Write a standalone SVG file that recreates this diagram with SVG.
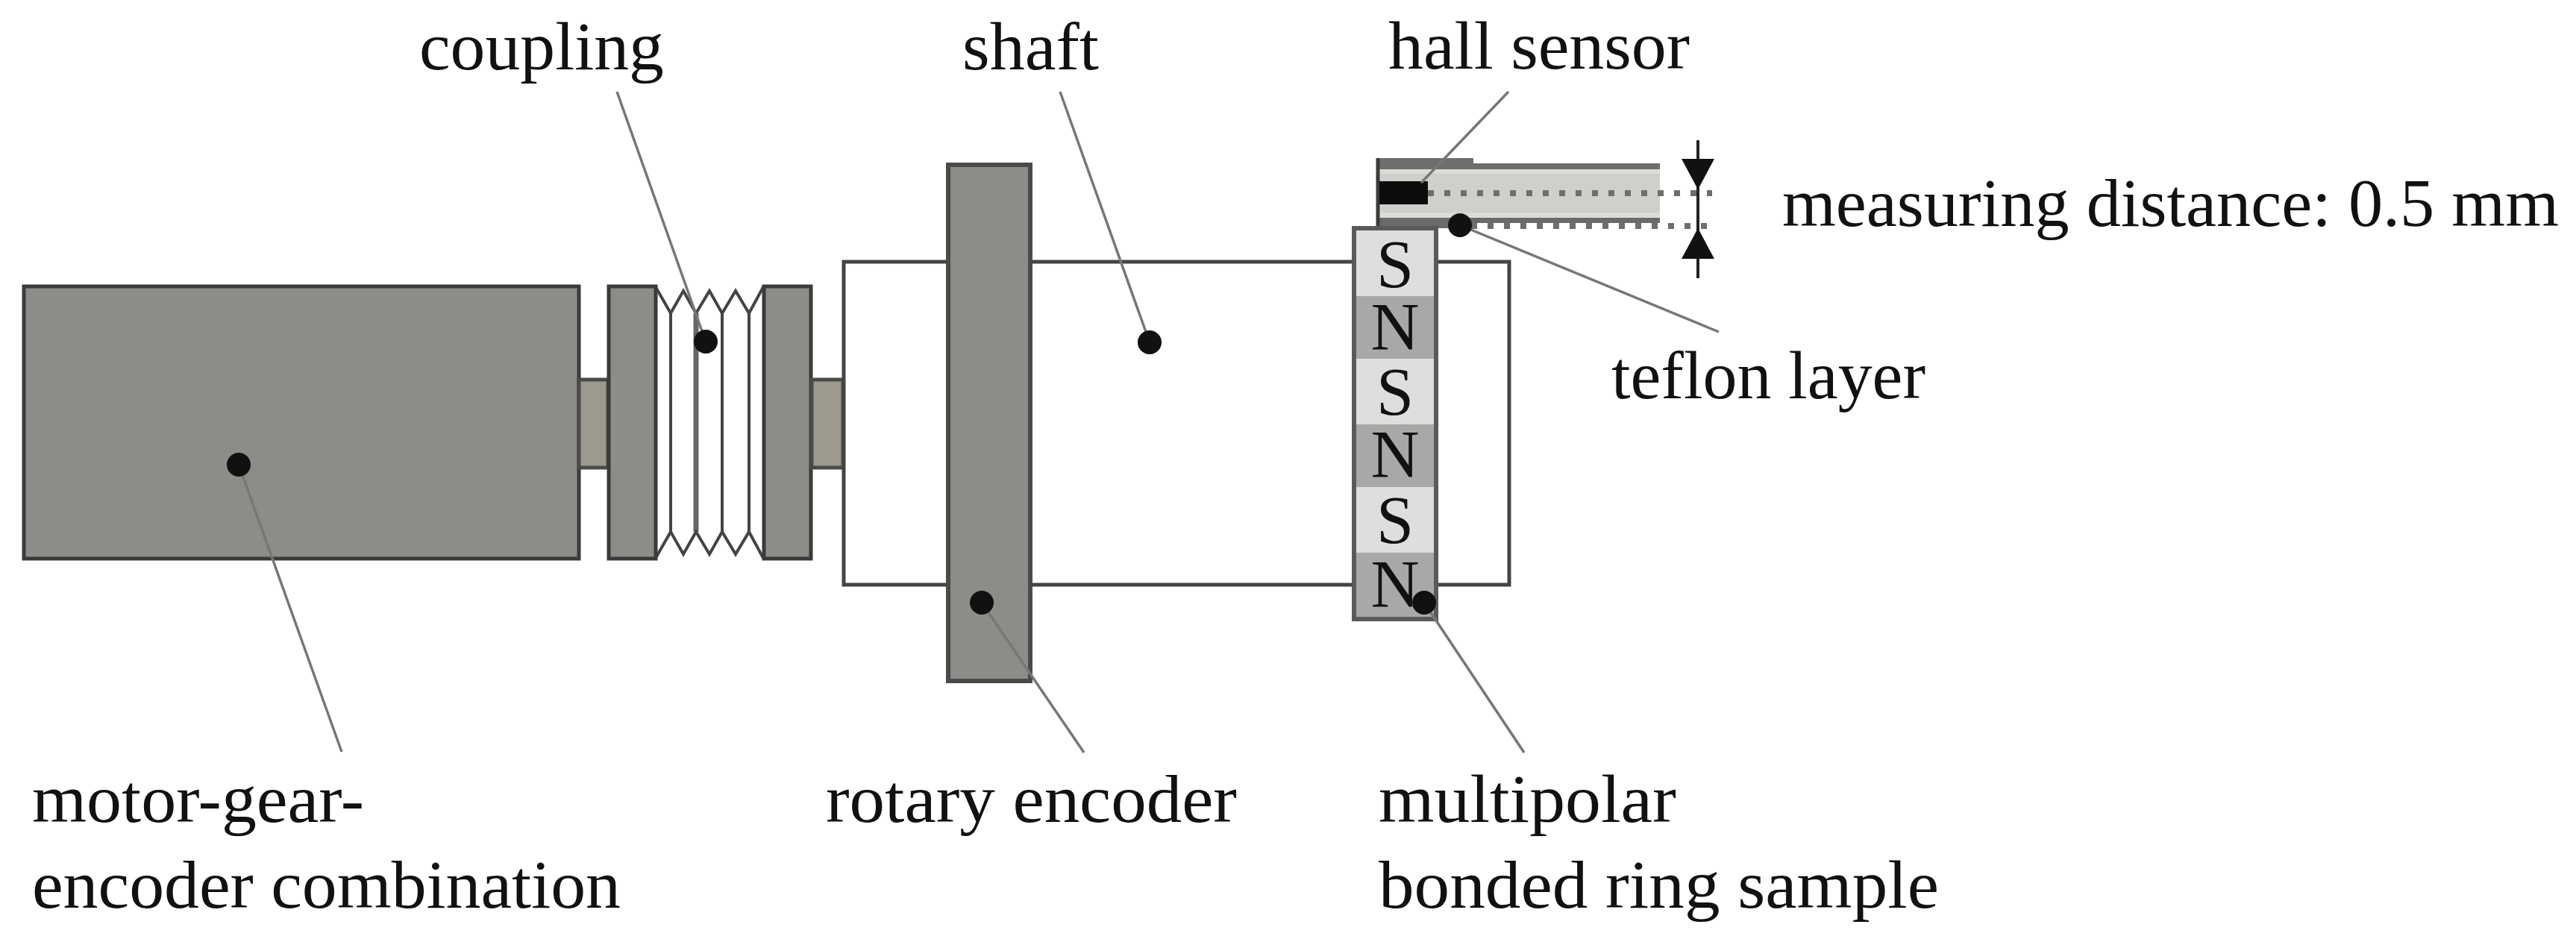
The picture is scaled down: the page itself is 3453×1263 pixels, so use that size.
<svg xmlns="http://www.w3.org/2000/svg" width="3453" height="1263" viewBox="0 0 3453 1263">
<style>
.t{font-family:"Liberation Serif","Times New Roman",serif;font-size:92px;fill:#111}
.p{font-family:"Liberation Serif","Times New Roman",serif;font-size:90px;fill:#111;text-anchor:middle}
.body{fill:#8e8c88;stroke:#3a3a3a;stroke-width:5}
.stub{fill:#9d998d;stroke:#4a4a48;stroke-width:5}
.line{fill:none;stroke:#444;stroke-width:4}
.lead{fill:none;stroke:#777;stroke-width:3.5}
.dash{fill:none;stroke:#6e6e6e;stroke-width:8;stroke-dasharray:8 14}
.S{fill:#e0dedc}
.N{fill:#a9a8a6}
</style>
<defs>
<marker id="dot" markerUnits="userSpaceOnUse" markerWidth="34" markerHeight="34" refX="17" refY="17"><circle cx="17" cy="17" r="16" fill="#111"/></marker>
</defs>
<rect width="3453" height="1263" fill="#fff"/>
<g id="motor">
<rect class="body" x="32" y="384" width="744" height="365"/>
<rect class="stub" x="776" y="509" width="39" height="118"/>
<text class="t" x="43" y="1102" textLength="445" lengthAdjust="spacingAndGlyphs">motor-gear-</text>
<text class="t" x="43" y="1217" textLength="789" lengthAdjust="spacingAndGlyphs">encoder combination</text>
</g>
<g id="coupling">
<path class="line" d="M899 420V713M968 420V713M1004 420V713"/>
<path d="M933 420V713" fill="none" stroke="#666" stroke-width="7"/>
<path class="line" stroke-linejoin="miter" d="M879 385L899 420L916 390L933 420L951 390L968 420L986 390L1004 420L1023 385M879 748L899 713L916 743L933 713L951 743L968 713L986 743L1004 713L1023 748"/>
<rect class="body" x="816" y="384" width="63" height="365"/>
<rect class="body" x="1024" y="384" width="63" height="365"/>
<rect class="stub" x="1088" y="509" width="42" height="118"/>
<text class="t" x="562" y="93" textLength="328" lengthAdjust="spacingAndGlyphs">coupling</text>
</g>
<g id="shaft">
<rect x="1131" y="351" width="892" height="433" fill="#fff" stroke="#444" stroke-width="5"/>
<text class="t" x="1290" y="93" textLength="183" lengthAdjust="spacingAndGlyphs">shaft</text>
</g>
<g id="rotary-encoder">
<rect x="1271" y="221" width="110" height="692" fill="#8e8c88" stroke="#4a4a4a" stroke-width="6"/>
<text class="t" x="1107" y="1102" textLength="551" lengthAdjust="spacingAndGlyphs">rotary encoder</text>
</g>
<g id="hall-sensor">
<rect x="1849" y="226" width="376" height="72" fill="#d0cfcc"/>
<path d="M1849 226H2225V233H1849ZM1849 285H2225V292H1849Z" fill="#dcdbd8"/>
<path d="M1848 212H1975V219H2225V227H1848Z" fill="#6e6e6e"/>
<rect x="1848" y="292" width="377" height="7" fill="#6a6a6a"/>
<rect x="1848" y="292" width="130" height="14" fill="#6a6a6a"/>
<path d="M1847 212V304" stroke="#3a3a3a" stroke-width="5" fill="none"/>
<rect x="1849" y="243" width="65" height="31" fill="#0c0c0c"/>
<text class="t" x="1861" y="92" textLength="404" lengthAdjust="spacingAndGlyphs">hall sensor</text>
</g>
<g id="ring">
<rect x="1815" y="306" width="110" height="524" fill="#a9a8a6" stroke="#5a5a5a" stroke-width="6"/>
<rect class="S" x="1818" y="309" width="104" height="88"/>
<rect class="N" x="1818" y="397" width="104" height="84"/>
<rect class="S" x="1818" y="481" width="104" height="88"/>
<rect class="N" x="1818" y="569" width="104" height="84"/>
<rect class="S" x="1818" y="653" width="104" height="88"/>
<rect class="N" x="1818" y="741" width="104" height="86"/>
<text class="p" x="1870" y="385">S</text>
<text class="p" x="1870" y="469">N</text>
<text class="p" x="1870" y="556">S</text>
<text class="p" x="1870" y="640">N</text>
<text class="p" x="1870" y="728">S</text>
<text class="p" x="1870" y="814">N</text>
<text class="t" x="1848" y="1102" textLength="399" lengthAdjust="spacingAndGlyphs">multipolar</text>
<text class="t" x="1848" y="1217" textLength="751" lengthAdjust="spacingAndGlyphs">bonded ring sample</text>
</g>
<g id="measuring-distance">
<path d="M2276 188V373" stroke="#222" stroke-width="4" fill="none"/>
<path d="M2254 213H2298L2276 254ZM2254 347H2298L2276 306Z" fill="#111"/>
<text class="t" x="2389" y="303" textLength="1041" lengthAdjust="spacingAndGlyphs">measuring distance: 0.5 mm</text>
</g>
<g id="teflon-layer">
<text class="t" x="2160" y="534" textLength="421" lengthAdjust="spacingAndGlyphs">teflon layer</text>
</g>
<g id="connectors">
<path class="dash" d="M1914 259H2295"/>
<path class="dash" d="M1972 303H2295"/>
<path class="lead" d="M2022 123L1905 245"/>
<path class="lead" marker-start="url(#dot)" d="M320 623L458 1008"/>
<path class="lead" marker-end="url(#dot)" d="M827 123L946 458"/>
<path class="lead" marker-end="url(#dot)" d="M1421 123L1541 459"/>
<path class="lead" marker-start="url(#dot)" d="M1316 808L1453 1009"/>
<path class="lead" marker-start="url(#dot)" d="M1909 808L2043 1009"/>
<path class="lead" marker-start="url(#dot)" d="M1957 302L2304 445"/>
</g>
</svg>
